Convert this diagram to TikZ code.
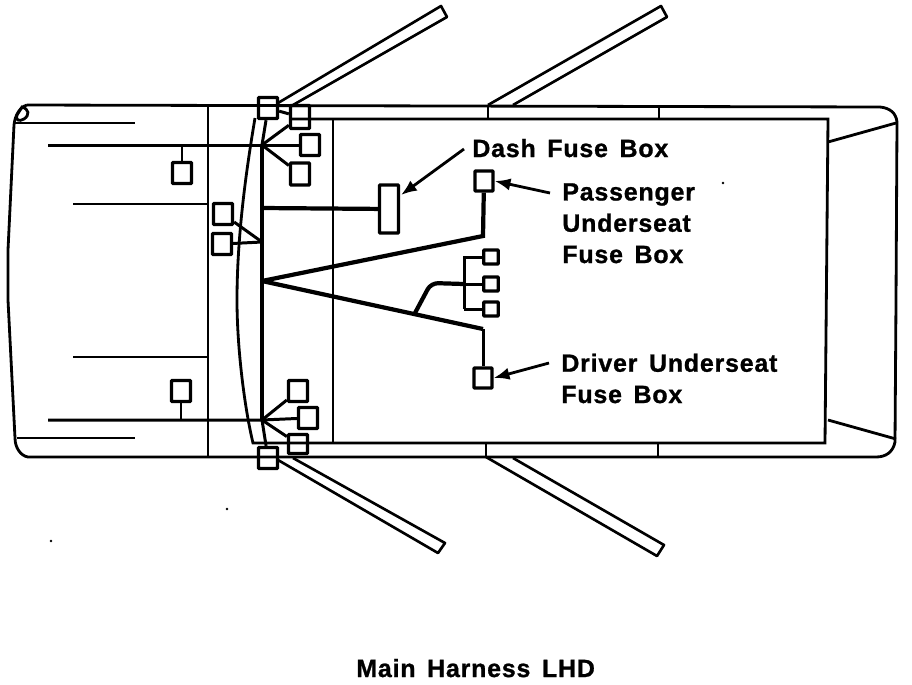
\documentclass[tikz,border=0pt]{standalone}
\usepackage{fontspec}
\setmainfont{Liberation Sans}[BoldFont={Liberation Sans Bold}]
\newfontfamily\labelfont{Liberation Sans Bold}[LetterSpace=3.2,WordSpace=1.5,FakeBold=1.0]
\usetikzlibrary{arrows.meta}
\tikzset{
	body/.style={line width=1.6pt},
	door/.style={line width=1.5pt, line join=round},
	wire/.style={line width=1.7pt},
	heavywire/.style={line width=2.4pt},
	fuse/.style={draw, line width=1.9pt, rounded corners=0.4pt, inner sep=0pt, minimum width=0.38cm, minimum height=0.42cm},
	smallfuse/.style={fuse, minimum width=0.29cm, minimum height=0.28cm},
	pointer/.style={line width=1.6pt, -{Latex[length=9pt,width=7pt]}},
	caption/.style={font=\labelfont\fontsize{14.2}{17.8}\selectfont, align=left, inner sep=0pt, anchor=base west}
}

\begin{document}
\begin{tikzpicture}[x=0.02cm, y=-0.02cm]
			%%%%% START %%%%%
			\useasboundingbox (0, 0) rectangle (912, 684);
			
			% car body
			\draw[body] (27, 105) -- (880, 107) .. controls (890, 108) and (896, 113) .. (897, 122) -- (896, 300) -- (895, 442) .. controls (893, 452) and (886, 457) .. (876, 457) -- (28, 457) .. controls (21, 456) and (15, 448) .. (15, 438) -- (8, 300) -- (8, 250) -- (14, 125) .. controls (15, 115) and (20, 107) .. (27, 105);
			\draw[body] (22, 107) .. controls (29, 109) and (30, 115) .. (24, 119) .. controls (19, 122) and (15, 120) .. (17, 115) -- cycle;
			\draw[body] (15, 123) -- (135, 123);
			\draw[body] (17, 438) -- (135, 438);
			\draw[body] (73, 204) -- (208, 204);
			\draw[body] (73, 357) -- (208, 357);
			\draw[body] (208, 105) -- (208, 457);
			
			% load floor
			\draw[body] (290, 119) -- (828, 119) -- (825, 443) -- (253, 443) .. controls (245, 410) and (237, 350) .. (237, 300) .. controls (237, 230) and (248, 160) .. (255, 118);
			\draw[body] (333, 119) -- (333, 443);
			\foreach \x in {488, 659} \draw[body] (\x, 105) -- (\x, 119);
			\foreach \x in {486, 658} \draw[body] (\x, 443) -- (\x, 457);
			\draw[body] (828, 142) -- (896, 123);
			\draw[body] (828, 420) -- (896, 439);
			
			% doors
			\draw[door] (278, 103) -- (441, 6) -- (447, 17) -- (293, 105);
			\draw[door] (488, 105) -- (661, 6) -- (667, 17) -- (513, 105);
			\draw[door] (278, 460) -- (438, 553) -- (445, 543) -- (293, 458);
			\draw[door] (486, 457) -- (657, 556) -- (664, 545) -- (513, 458);
			
			% fuse boxes
			\node[fuse] (cornerTL) at (268, 108) {};
			\node[fuse, minimum height=0.46cm] (upperA) at (300, 117) {};
			\node[fuse] (upperB) at (310, 145) {};
			\node[fuse, minimum height=0.44cm] (upperC) at (300, 174) {};
			\node[fuse] (upperLeft) at (182, 173) {};
			\node[fuse] (midA) at (223, 214) {};
			\node[fuse] (midB) at (222, 244) {};
			\node[fuse] (lowerLeft) at (181, 391) {};
			\node[fuse] (lowerA) at (298, 391) {};
			\node[fuse] (lowerB) at (308, 418) {};
			\node[fuse, minimum height=0.38cm] (lowerC) at (298, 444) {};
			\node[fuse] (cornerBL) at (268, 458) {};
			\node[fuse, minimum height=0.96cm] (dashBox) at (389, 209) {};
			\node[fuse, minimum width=0.36cm, minimum height=0.4cm] (passBox) at (484, 181) {};
			\node[fuse, minimum width=0.36cm, minimum height=0.4cm] (driverBox) at (483, 378) {};
			\node[smallfuse] (smallA) at (491, 257) {};
			\node[smallfuse] (smallB) at (491, 284) {};
			\node[smallfuse] (smallC) at (491, 309) {};
			
			% junctions
			\coordinate (hubTop) at (262, 145);
			\coordinate (hubBot) at (262, 420);
			\coordinate (hubDash) at (262, 208);
			\coordinate (hubMid) at (262, 242);
			\coordinate (hubFan) at (262, 281);
			\coordinate (endTop) at (48, 145);
			\coordinate (endBot) at (48, 420);
			\coordinate (kneePass) at (483, 236);
			\coordinate (kneeDriver) at (483, 329);
			\coordinate (tapFan) at (415, 313);
			\coordinate (treeTop) at (464, 257);
			\coordinate (treeMid) at (464, 284);
			\coordinate (treeBot) at (464, 309);
			
			% harness
			\draw[heavywire] (hubTop) -- (hubBot);
			\draw[wire] (endTop) -- (hubTop) -- (upperB);
			\draw[wire] (endBot) -- (hubBot) -- (lowerB);
			\draw[wire] (upperLeft) -- (182, 145);
			\draw[wire] (lowerLeft) -- (181, 420);
			\draw[wire] (hubTop) -- (upperA);
			\draw[wire] (hubTop) -- (upperC);
			\draw[wire] (hubTop) -- (cornerTL);
			\draw[wire] (cornerTL) -- (upperA);
			\draw[wire] (hubBot) -- (lowerA);
			\draw[wire] (hubBot) -- (lowerC);
			\draw[wire] (hubBot) -- (cornerBL);
			\draw[wire] (midA) -- (hubMid);
			\draw[wire] (midB) -- (hubMid);
			\draw[heavywire] (hubDash) -- (dashBox);
			\draw[heavywire] (hubFan) -- (kneePass) -- (passBox);
			\draw[heavywire] (hubFan) -- (kneeDriver);
			\draw[wire] (kneeDriver) -- (driverBox);
			\draw[heavywire, rounded corners=4pt] (tapFan) -- (431, 283) -- (treeMid);
			\draw[wire] (treeMid) -- (smallB);
			\draw[wire] (treeBot) -- (treeTop) -- (smallA);
			\draw[wire] (treeBot) -- (smallC);
			
			% labels
			\node[caption] (dashText) at (472, 157) {Dash Fuse Box};
			\node[caption] (passText) at (562, 263) {Passenger\\Underseat\\Fuse Box};
			\node[caption] (driverText) at (561, 403) {Driver Underseat\\Fuse Box};
			\node[caption] (titleText) at (356, 677) {Main Harness LHD};
			
			\coordinate (dashTail) at (464, 149);
			\coordinate (dashTip) at (401, 195);
			\coordinate (passTail) at (550, 193);
			\coordinate (driverTail) at (549, 363);
			\draw[pointer] (dashTail) -- (dashTip);
			\draw[pointer] (passTail) -- (passBox.east);
			\draw[pointer] (driverTail) -- (driverBox.east);
			
			% specks of the scan
			\foreach \x/\y in {723/183, 51/541, 227/509} \fill (\x, \y) circle (1.3);
			
			%%%%% END %%%%%
		\end{tikzpicture}
\end{document}
